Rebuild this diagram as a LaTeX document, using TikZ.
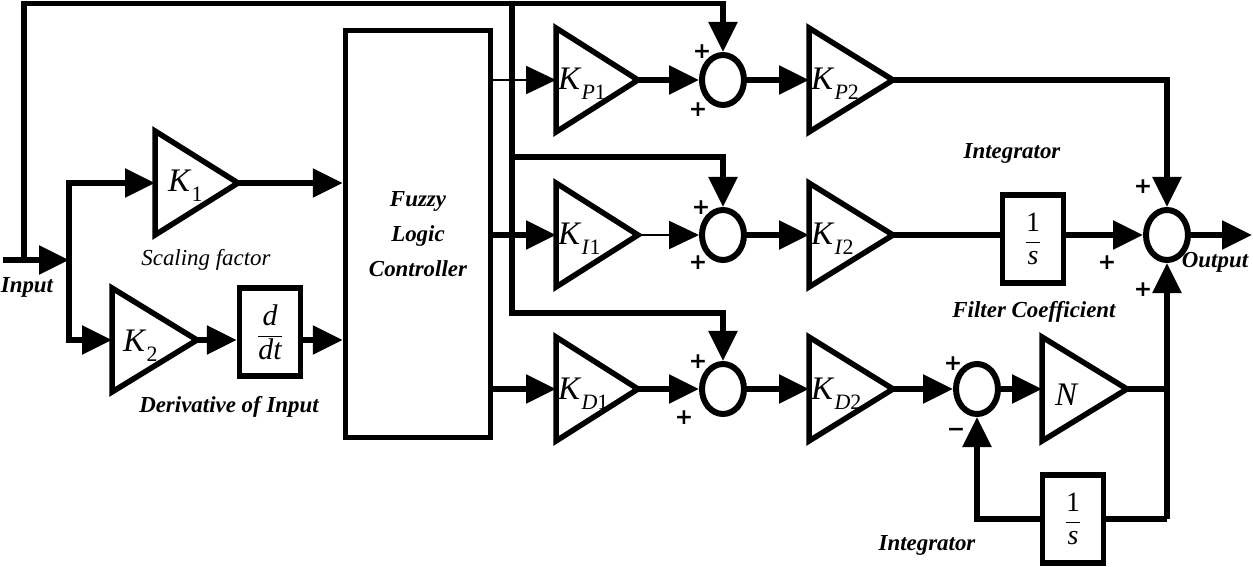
\documentclass[tikz,border=0pt]{standalone}
\usepackage{fontspec}
\setmainfont{Liberation Serif}
\newfontfamily\sgnfont{DejaVu Sans}
\usetikzlibrary{arrows.meta,shapes.geometric}
\tikzset{
 blk/.style={line width=5.5bp, line join=miter},
 thinln/.style={line width=2.2bp},
 arr/.style={blk,-{Triangle[length=30bp,width=28bp]}},
 tarr/.style={thinln,-{Triangle[length=30bp,width=28bp]}},
 sumnode/.style={ellipse, draw, line width=6bp, minimum width=42bp, minimum height=50bp, inner sep=0},
 boxnode/.style={draw, line width=5.5bp, minimum width=61bp, minimum height=88bp, inner sep=0},
 lbl/.style={font=\fontsize{23}{28}\selectfont\bfseries\itshape, inner sep=0},
 ilbl/.style={font=\fontsize{23}{28}\selectfont\itshape, inner sep=0},
 sgn/.style={font=\fontsize{22}{22}\selectfont\sgnfont\bfseries, inner sep=0},
 klbl/.style={anchor=base west, inner sep=0},
}
\newcommand\Kg[1]{\fontsize{33}{33}\selectfont\textit{K}\raisebox{-10bp}{\fontsize{22}{22}\selectfont #1}}
% name, left x, centre y, half height, length
\newcommand\gainblock[5]{%
 \coordinate (#1-in) at (#2,#3);
 \coordinate (#1-out) at ({#2+#5},#3);
 \draw[blk] (#2,{#3-#4}) -- ({#2+#5},#3) -- (#2,{#3+#4}) -- cycle;
}
\begin{document}
\begin{tikzpicture}[x=1bp,y=-1bp]
\useasboundingbox (0,0) rectangle (1253,567);

% gain triangles
\gainblock{K1}{155}{183}{52}{83}
\gainblock{K2}{112}{340}{52}{85}
\gainblock{KP1}{556}{80}{52}{82}
\gainblock{KI1}{556}{235}{52}{82}
\gainblock{KD1}{556}{389}{52}{82}
\gainblock{KP2}{809}{80}{52}{84}
\gainblock{KI2}{809}{235}{52}{84}
\gainblock{KD2}{809}{389}{52}{84}
\gainblock{NN}{1042}{389}{52}{85}

% gain labels
\node[klbl] (K1l) at (168,192) {\Kg{1}};
\node[klbl] (K2l) at (123,352) {\Kg{2}};
\node[klbl] (KP1l) at (558,90) {\Kg{\textit{P}1}};
\node[klbl] (KI1l) at (558,245) {\Kg{\textit{I}1}};
\node[klbl] (KD1l) at (558,399) {\Kg{\textit{D}1}};
\node[klbl] (KP2l) at (811,90) {\Kg{\textit{P}2}};
\node[klbl] (KI2l) at (811,245) {\Kg{\textit{I}2}};
\node[klbl] (KD2l) at (811,399) {\Kg{\textit{D}2}};
\node[inner sep=0, font=\fontsize{33}{33}\selectfont\itshape] (Nl) at (1066,395) {N};

% blocks
\node[boxnode] (D) at (270,332) {\fontsize{30}{30}\selectfont$\displaystyle\frac{\textit{d}}{\textit{dt}}$};
\node[boxnode] (I1) at (1033,239) {\fontsize{28}{28}\selectfont$\displaystyle\frac{\textrm{1}}{\textit{s}}$};
\node[boxnode] (I2) at (1073,519) {\fontsize{28}{28}\selectfont$\displaystyle\frac{\textrm{1}}{\textit{s}}$};
\node[draw, line width=5.5bp, minimum width=145bp, minimum height=407bp, inner sep=0, align=center,
      font=\fontsize{23}{35}\selectfont\bfseries\itshape] (FLC) at (418,234) {Fuzzy\\Logic\\Controller};

% summing junctions
\node[sumnode] (S1) at (723,80) {};
\node[sumnode] (S2) at (723,235) {};
\node[sumnode] (S3) at (723,389) {};
\node[sumnode] (S4) at (977,389) {};
\node[sumnode] (SO) at (1167,235) {};

% signs
\node[sgn] (p1) at (702,52) {+};
\node[sgn] (p2) at (698,110) {+};
\node[sgn] (p3) at (701,208) {+};
\node[sgn] (p4) at (698,263) {+};
\node[sgn] (p5) at (698,362) {+};
\node[sgn] (p6) at (684,418) {+};
\node[sgn] (p7) at (953,364) {+};
\node[sgn] (m1) at (956,432) {−};
\node[sgn] (p8) at (1143,187) {+};
\node[sgn] (p9) at (1107,263) {+};
\node[sgn] (p10) at (1143,290) {+};

% text labels
\node[lbl] (inputlbl) at (27,287) {Input};
\node[ilbl] (scal) at (206,260) {Scaling factor};
\node[lbl] (deriv) at (229,407) {Derivative of Input};
\node[lbl] (intg1) at (1012,153) {Integrator};
\node[lbl] (outlbl) at (1215,262) {Output};
\node[lbl] (filt) at (1034,312) {Filter Coefficient};
\node[lbl] (intg2) at (927,545) {Integrator};

% input and split
\coordinate (inL) at (3,260);
\coordinate (split) at (69,260);
\coordinate (fb0) at (24,260);
\coordinate (top) at (24,3.5);
\draw[arr] (inL) -- (split);
\draw[arr] (split) |- (K1-in);
\draw[arr] (split) |- (K2-in);

% top feedback of input
\draw[arr] (fb0) -- (top) -| (S1.north);
\coordinate (v0) at (512,3.5);
\coordinate (vb2) at (512,157);
\coordinate (vb3) at (512,313);
\draw[arr] (v0) -- (vb3) -| (S3.north);
\draw[arr] (vb2) -| (S2.north);

% into FLC
\draw[arr] (K1-out) -- (FLC.west |- K1-out);
\draw[arr] (K2-out) -- (D.west |- K2-out);
\draw[arr] (D.east |- K2-out) -- (FLC.west |- K2-out);

% FLC outputs
\draw[tarr] (FLC.east |- KP1-in) -- (KP1-in);
\draw[arr] (FLC.east |- KI1-in) -- (KI1-in);
\draw[arr] (FLC.east |- KD1-in) -- (KD1-in);

% P branch
\draw[arr] (KP1-out) -- (S1.west);
\draw[arr] (S1.east) -- (KP2-in);
\draw[arr] (KP2-out) -| (SO.north);

% I branch
\draw[tarr] (KI1-out) -- (S2.west);
\draw[arr] (S2.east) -- (KI2-in);
\draw[blk] (KI2-out) -- (I1.west |- KI2-out);
\draw[arr] (I1.east |- SO.west) -- (SO.west);
\coordinate (outR) at (1252,235);
\draw[arr] (SO.east) -- (outR);

% D branch
\draw[arr] (KD1-out) -- (S3.west);
\draw[arr] (S3.east) -- (KD2-in);
\draw[arr] (KD2-out) -- (S4.west);
\draw[arr] (S4.east) -- (NN-in);
\coordinate (fbR) at (1167,519);
\coordinate (jN) at (1167,389);
\draw[blk] (NN-out) -- (jN);
\draw[arr] (fbR) -- (SO.south);
\draw[blk] (fbR) -- (I2.east |- fbR);
\draw[arr] (I2.west |- fbR) -| (S4.south);
\end{tikzpicture}
\end{document}
